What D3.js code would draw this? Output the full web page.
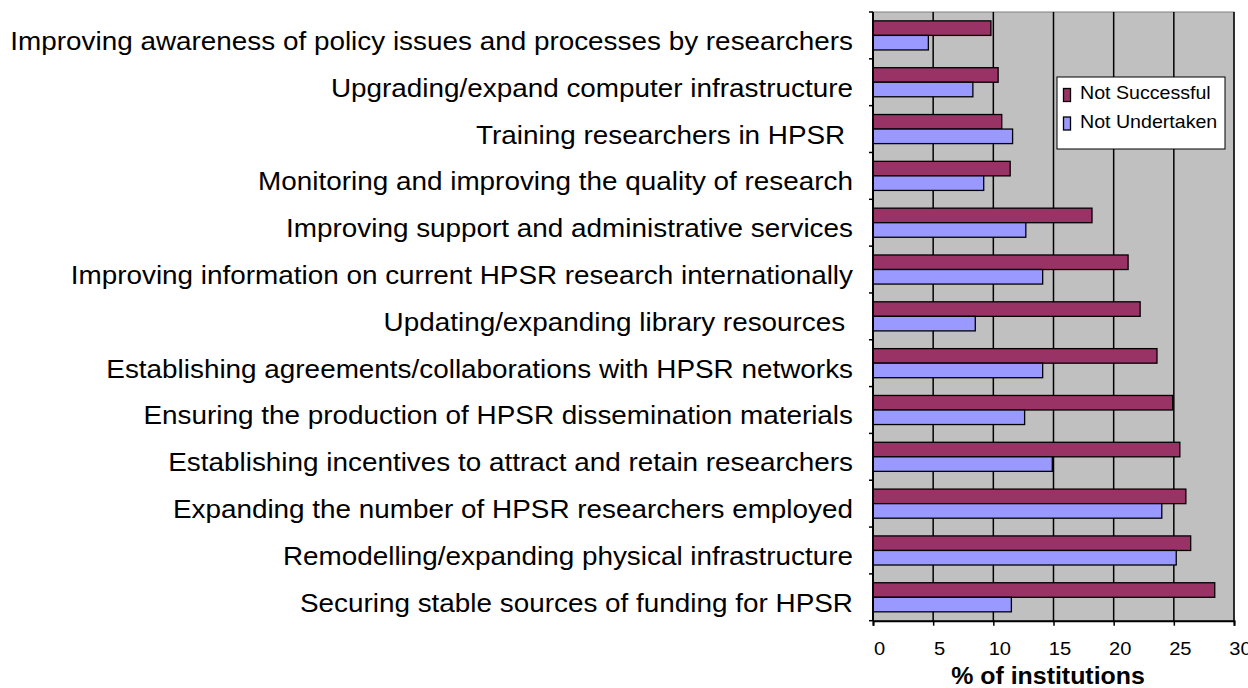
<!DOCTYPE html>
<html>
<head>
<meta charset="utf-8">
<script src="https://cdn.jsdelivr.net/npm/d3@7"></script>
<style>
  body { margin: 0; background: #fff; }
  svg text { font-family: "Liberation Sans", Arial, sans-serif; white-space: pre; }
</style>
</head>
<body>
<div id="chart"></div>
<script>
// categories, top to bottom
var categories = [
  "Improving awareness of policy issues and processes by researchers",
  "Upgrading/expand computer infrastructure",
  "Training researchers in HPSR ",
  "Monitoring and improving the quality of research",
  "Improving support and administrative services",
  "Improving information on current HPSR research internationally",
  "Updating/expanding library resources ",
  "Establishing agreements/collaborations with HPSR networks",
  "Ensuring the production of HPSR dissemination materials",
  "Establishing incentives to attract and retain researchers",
  "Expanding the number of HPSR researchers employed",
  "Remodelling/expanding physical infrastructure",
  "Securing stable sources of funding for HPSR"
];
var notSuccessful = [9.8, 10.4, 10.7, 11.4, 18.2, 21.2, 22.2, 23.6, 24.9, 25.5, 26.0, 26.4, 28.4];
var notUndertaken = [4.6, 8.3, 11.6, 9.2, 12.7, 14.1, 8.5, 14.1, 12.6, 14.9, 24.0, 25.2, 11.5];
var seriesNames = ["Not Successful", "Not Undertaken"];
var seriesColors = ["#993366", "#9999ff"];
var xTicks = [0, 5, 10, 15, 20, 25, 30];

var width = 1248, height = 688;
var stretch = 1.06; // text in the picture is a bit wide

var svg = d3.select("#chart").append("svg")
    .attr("width", width)
    .attr("height", height);

var x = d3.scaleLinear().domain([0, 30]).range([873, 1234]);
var y = d3.scaleBand().domain(categories).range([12, 620.7]);
var ySub = d3.scaleBand().domain(seriesNames)
    .range([0, y.bandwidth()])
    .paddingInner(0)
    .paddingOuter(0.61);

var rows = categories.map(function (c, i) {
    return { name: c, values: [notSuccessful[i], notUndertaken[i]] };
});

// plot background
svg.append("rect")
    .attr("x", x(0)).attr("y", y.range()[0])
    .attr("width", x(30) - x(0))
    .attr("height", y.range()[1] - y.range()[0])
    .attr("fill", "#c0c0c0")
    .attr("stroke", "#808080")
    .attr("stroke-width", 1);

// gridlines
svg.append("g").selectAll("line")
    .data(xTicks.filter(function (t) { return t > 0; }))
    .enter().append("line")
    .attr("x1", function (d) { return x(d); })
    .attr("x2", function (d) { return x(d); })
    .attr("y1", y.range()[0])
    .attr("y2", y.range()[1])
    .attr("stroke", "#000")
    .attr("stroke-width", 1.5);

// bars
var groups = svg.append("g").selectAll("g")
    .data(rows)
    .enter().append("g")
    .attr("transform", function (d) { return "translate(0," + y(d.name) + ")"; });

groups.selectAll("rect")
    .data(function (d) { return d.values.map(function (v, j) { return { s: seriesNames[j], v: v, j: j }; }); })
    .enter().append("rect")
    .attr("x", x(0))
    .attr("y", function (d) { return ySub(d.s); })
    .attr("width", function (d) { return x(d.v) - x(0); })
    .attr("height", ySub.bandwidth())
    .attr("fill", function (d) { return seriesColors[d.j]; })
    .attr("stroke", "#000")
    .attr("stroke-width", 1.3);

// left axis (category ticks at band edges)
var bounds = categories.map(function (c) { return y(c); }).concat([y.range()[1]]);
var gy = svg.append("g");
gy.append("line")
    .attr("x1", x(0)).attr("x2", x(0))
    .attr("y1", y.range()[0]).attr("y2", y.range()[1])
    .attr("stroke", "#000").attr("stroke-width", 2);
gy.selectAll("line.tk")
    .data(bounds)
    .enter().append("line")
    .attr("class", "tk")
    .attr("x1", x(0) - 4).attr("x2", x(0))
    .attr("y1", function (d) { return d; })
    .attr("y2", function (d) { return d; })
    .attr("stroke", "#000").attr("stroke-width", 1.5);

// category labels
svg.append("g").selectAll("text")
    .data(categories)
    .enter().append("text")
    .attr("transform", function (d) {
        return "translate(853," + (y(d) + y.bandwidth() / 2 + 14.5) + ") scale(" + stretch + ",1)";
    })
    .attr("text-anchor", "end")
    .attr("font-size", "26.3px")
    .attr("fill", "#000")
    .text(function (d) { return d; });

// bottom axis
var xAxis = d3.axisBottom(x).tickValues(xTicks).tickSize(5).tickPadding(0);
var gx = svg.append("g")
    .attr("transform", "translate(0," + y.range()[1] + ")")
    .call(xAxis);
gx.select(".domain").attr("stroke", "#000").attr("stroke-width", 2);
gx.selectAll(".tick line").attr("stroke", "#000").attr("stroke-width", 1.5);
gx.selectAll(".tick text")
    .attr("y", 0).attr("dy", 0)
    .attr("transform", "translate(6,34) scale(" + stretch + ",1)")
    .attr("font-size", "19px")
    .attr("font-family", "Liberation Sans, Arial, sans-serif")
    .attr("fill", "#000");

// axis title
svg.append("text")
    .attr("transform", "translate(1048,684) scale(" + stretch + ",1)")
    .attr("text-anchor", "middle")
    .attr("font-size", "23.5px")
    .attr("font-weight", "bold")
    .text("% of institutions");

// legend
var legend = svg.append("g").attr("transform", "translate(1057,77)");
legend.append("rect")
    .attr("width", 168).attr("height", 72)
    .attr("fill", "#fff").attr("stroke", "#000").attr("stroke-width", 1);
var items = legend.selectAll("g.item")
    .data(seriesNames)
    .enter().append("g")
    .attr("class", "item")
    .attr("transform", function (d, i) { return "translate(0," + (i * 28.5) + ")"; });
items.append("rect")
    .attr("x", 6.5).attr("y", 11.5)
    .attr("width", 7).attr("height", 13)
    .attr("fill", function (d, i) { return seriesColors[i]; })
    .attr("stroke", "#000").attr("stroke-width", 1.3);
items.append("text")
    .attr("transform", "translate(23,22) scale(" + stretch + ",1)")
    .attr("font-size", "18.5px")
    .text(function (d) { return d; });
</script>
</body>
</html>
